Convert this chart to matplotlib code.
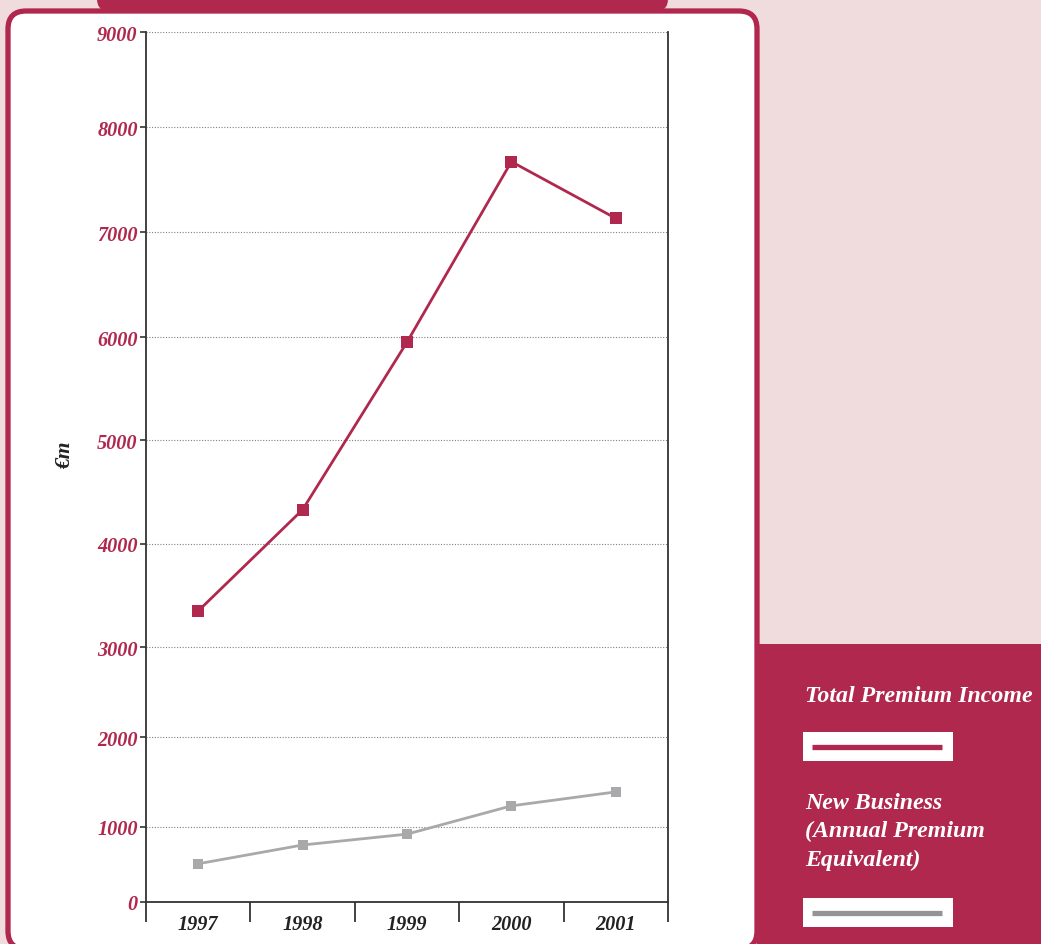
import numpy as np
import matplotlib
matplotlib.use("Agg")
import matplotlib.pyplot as plt
from matplotlib.patches import FancyBboxPatch, Rectangle

# ---------------- data ----------------
years = ["1997", "1998", "1999", "2000", "2001"]
total_premium = [3350, 4330, 5950, 7670, 7130]
new_business = [510, 760, 905, 1235, 1390]
y_ticks = [0, 1000, 2000, 3000, 4000, 5000, 6000, 7000, 8000, 9000]
legend_labels = ["Total Premium Income", "New Business\n(Annual Premium\nEquivalent)"]
y_label = "€m"

# ---------------- style ----------------
CRIMSON = "#B0284E"
PINK = "#F0DCDC"
GREY = "#A9A9AB"
GREY_LEG = "#949497"
W, H = 1041, 945
SERIF = ["Liberation Serif", "DejaVu Serif"]

# the printed axis is not evenly spaced: fraction of axis height of each tick
tick_px = [903, 828, 738, 648, 545, 441, 338, 233, 128, 33]
tick_frac = [(903 - p) / 870 for p in tick_px]


def fwd(v):
    return np.interp(v, y_ticks, tick_frac)


def inv(f):
    return np.interp(f, tick_frac, y_ticks)


fig = plt.figure(figsize=(W / 100, H / 100), dpi=100)
fig.patch.set_facecolor(PINK)

# background canvas in pixel coordinates
bg = fig.add_axes([0, 0, 1, 1], zorder=0)
bg.set_xlim(0, W)
bg.set_ylim(H, 0)
bg.axis("off")

# right crimson legend panel
bg.add_patch(Rectangle((757, 645), W - 757, H - 645, facecolor=CRIMSON, edgecolor="none"))
# top tab
bg.add_patch(FancyBboxPatch((97, -30), 571, 42,
                            boxstyle="round,pad=0,rounding_size=12",
                            facecolor=CRIMSON, edgecolor="none"))
# white rounded box
bg.add_patch(FancyBboxPatch((8, 12), 749, 938,
                            boxstyle="round,pad=0,rounding_size=18",
                            facecolor="white", edgecolor=CRIMSON, linewidth=3.8))

# y label
bg.text(65, 455, y_label, rotation=90, ha="center", va="center",
        family=SERIF, fontweight="bold", fontstyle="italic", fontsize=15.5, color="#222222")

# legend
bg.text(805, 696, legend_labels[0], ha="left", va="center", family=SERIF,
        fontweight="bold", fontstyle="italic", fontsize=17.2, color="white")
bg.add_patch(Rectangle((803, 733), 150, 29, facecolor="white", edgecolor="none"))
bg.plot([812, 942], [748, 748], color=CRIMSON, linewidth=3.8, solid_capstyle="butt")

bg.text(805, 793, legend_labels[1], ha="left", va="top", family=SERIF,
        fontweight="bold", fontstyle="italic", fontsize=17.2, color="white",
        linespacing=1.44)
bg.add_patch(Rectangle((803, 899), 150, 29, facecolor="white", edgecolor="none"))
bg.plot([812, 942], [914, 914], color=GREY_LEG, linewidth=3.8, solid_capstyle="butt")

# ---------------- chart ----------------
ax = fig.add_axes([146 / W, (H - 903) / H, 522 / W, 870 / H], zorder=2)
ax.set_facecolor("none")
ax.set_yscale("function", functions=(fwd, inv))
ax.set_ylim(0, 9000)
x = np.arange(len(years))
ax.set_xlim(-0.5, len(years) - 0.5)

ax.plot(x, total_premium, color=CRIMSON, linewidth=2.0, marker="s", markersize=8,
        markeredgewidth=0, zorder=4, clip_on=False)
ax.plot(x, new_business, color=GREY, linewidth=2.0, marker="s", markersize=7,
        markeredgewidth=0, zorder=3, clip_on=False)

ax.set_yticks(y_ticks)
ax.set_yticklabels([str(v) for v in y_ticks])
ax.yaxis.set_minor_locator(matplotlib.ticker.NullLocator())
ax.tick_params(axis="y", which="major", direction="out", length=4, width=1.2,
               color="#333333", pad=2, labelcolor=CRIMSON, labelsize=14.6)
for lab in ax.get_yticklabels():
    lab.set_family(SERIF)
    lab.set_fontweight("bold")
    lab.set_fontstyle("italic")

# category boundaries as long downward ticks, labels at centres
ax.set_xticks(np.arange(len(years) + 1) - 0.5)
ax.set_xticklabels([])
ax.set_xticks(x, minor=True)
ax.set_xticklabels(years, minor=True)
ax.tick_params(axis="x", which="major", direction="out", length=14.5, width=1.2,
               color="#222222")
ax.tick_params(axis="x", which="minor", length=0, pad=9, labelsize=14.6,
               labelcolor="#222222")
for lab in ax.get_xticklabels(minor=True):
    lab.set_family(SERIF)
    lab.set_fontweight("bold")
    lab.set_fontstyle("italic")

ax.grid(axis="y", which="major", linestyle=(0, (1, 1.5)), color="#808080", linewidth=0.8)
ax.set_axisbelow(True)

for side in ["left", "right", "bottom"]:
    ax.spines[side].set_color("#333333")
    ax.spines[side].set_linewidth(1.3)
ax.spines["top"].set_visible(False)

fig.savefig("out.png", dpi=100, facecolor=fig.get_facecolor())
